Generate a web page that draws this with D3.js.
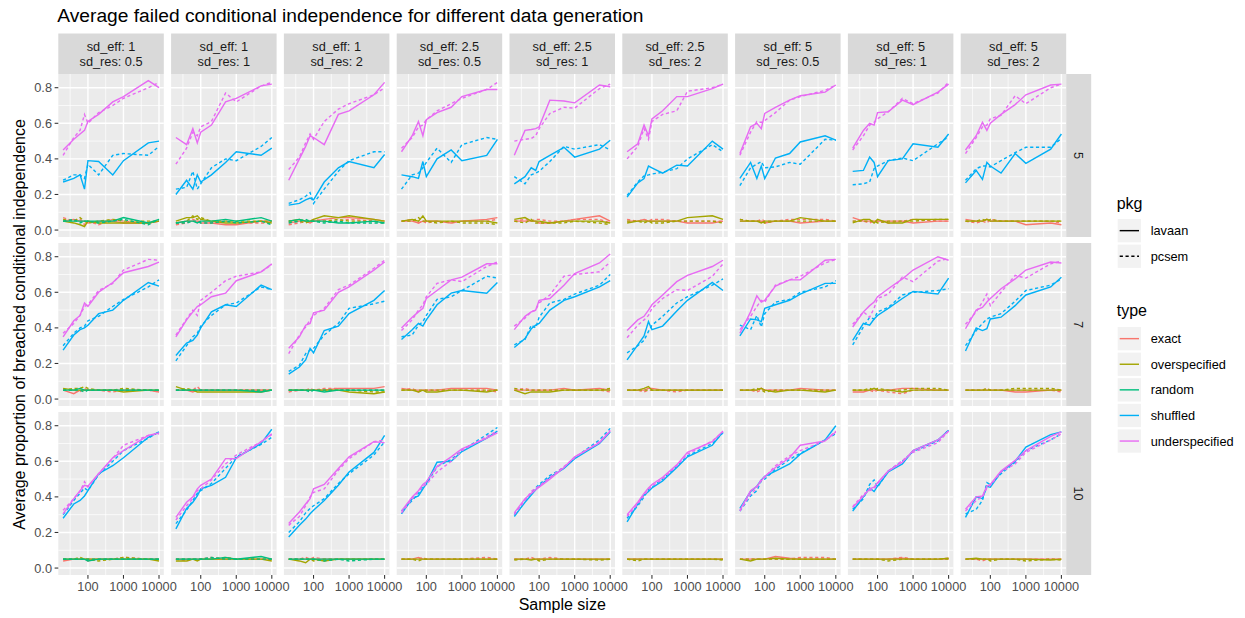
<!DOCTYPE html>
<html><head><meta charset="utf-8">
<script src="https://cdn.jsdelivr.net/npm/d3@7/dist/d3.min.js"></script>
<style>body{margin:0;background:#fff}svg{display:block;font-family:"Liberation Sans",Arial,sans-serif}</style>
</head><body><svg id="chart" width="1245" height="618"></svg>
<script>
// ---------- DATA ----------
const sampleSizes = [20, 40, 60, 80, 100, 200, 500, 1000, 5000, 10000];
const sdEff = [1, 1, 1, 2.5, 2.5, 2.5, 5, 5, 5];
const sdRes = [0.5, 1, 2, 0.5, 1, 2, 0.5, 1, 2];
const rowLabels = ["5", "7", "10"];
const types = ["exact", "overspecified", "random", "shuffled", "underspecified"];
const pkgs = ["lavaan", "pcsem"];
const typeColors = ["#F8766D", "#A3A500", "#00BF7D", "#00B0F6", "#E76BF3"];
const xTicks = [100, 1000, 10000];
const xTickLabels = ["100", "1000", "10000"];
const yTicks = [0, 0.2, 0.4, 0.6, 0.8];
const yTickLabels = ["0.0", "0.2", "0.4", "0.6", "0.8"];
// panels ordered row by row (row "5": 9 columns, row "7", row "10")
const exactLavaan = [
[0.05,0.06,0.05,0.05,0.04,0.05,0.05,0.04,0.04,0.05],[0.04,0.05,0.05,0.05,0.04,0.04,0.03,0.03,0.05,0.05],[0.04,0.05,0.05,0.04,0.05,0.06,0.07,0.07,0.06,0.05],
[0.05,0.05,0.04,0.05,0.05,0.05,0.04,0.05,0.06,0.07],[0.05,0.05,0.05,0.05,0.04,0.04,0.05,0.06,0.08,0.05],[0.05,0.05,0.06,0.05,0.05,0.05,0.05,0.04,0.04,0.05],
[0.05,0.05,0.05,0.05,0.04,0.05,0.05,0.04,0.05,0.05],[0.07,0.05,0.05,0.05,0.05,0.05,0.05,0.04,0.05,0.05],[0.06,0.05,0.05,0.06,0.05,0.05,0.05,0.03,0.04,0.03],
[0.05,0.03,0.05,0.05,0.05,0.05,0.05,0.05,0.05,0.04],[0.05,0.05,0.04,0.05,0.05,0.05,0.05,0.05,0.05,0.05],[0.05,0.05,0.05,0.05,0.05,0.05,0.06,0.06,0.06,0.07],
[0.06,0.05,0.05,0.05,0.05,0.05,0.06,0.06,0.06,0.05],[0.05,0.05,0.05,0.05,0.05,0.05,0.06,0.05,0.06,0.05],[0.05,0.05,0.05,0.06,0.06,0.05,0.05,0.05,0.05,0.05],
[0.05,0.05,0.05,0.06,0.05,0.05,0.05,0.06,0.05,0.05],[0.04,0.04,0.05,0.05,0.05,0.05,0.06,0.06,0.05,0.05],[0.05,0.05,0.05,0.05,0.05,0.05,0.04,0.04,0.05,0.05],
[0.04,0.05,0.05,0.05,0.05,0.05,0.05,0.05,0.05,0.05],[0.05,0.05,0.05,0.05,0.05,0.05,0.05,0.05,0.05,0.05],[0.05,0.05,0.05,0.05,0.05,0.05,0.05,0.05,0.05,0.05],
[0.05,0.05,0.06,0.05,0.05,0.05,0.05,0.05,0.05,0.05],[0.05,0.05,0.05,0.05,0.05,0.05,0.05,0.05,0.05,0.05],[0.05,0.05,0.05,0.05,0.05,0.05,0.05,0.05,0.05,0.05],
[0.05,0.05,0.05,0.05,0.05,0.065,0.055,0.05,0.05,0.05],[0.05,0.05,0.05,0.05,0.05,0.05,0.055,0.05,0.05,0.05],[0.05,0.05,0.05,0.05,0.05,0.05,0.05,0.05,0.05,0.05]];
const exactPcsem = [
[0.07,0.05,0.06,0.03,0.05,0.03,0.06,0.05,0.04,0.05],[0.03,0.04,0.06,0.05,0.05,0.04,0.05,0.04,0.04,0.04],[0.03,0.04,0.05,0.05,0.06,0.05,0.05,0.06,0.05,0.04],
[0.05,0.06,0.04,0.05,0.04,0.05,0.04,0.05,0.05,0.06],[0.05,0.06,0.05,0.06,0.06,0.05,0.05,0.06,0.06,0.04],[0.06,0.05,0.06,0.05,0.06,0.06,0.05,0.05,0.05,0.05],
[0.06,0.05,0.05,0.06,0.05,0.05,0.06,0.06,0.06,0.05],[0.05,0.05,0.04,0.05,0.05,0.04,0.05,0.06,0.05,0.05],[0.05,0.04,0.05,0.04,0.06,0.05,0.05,0.05,0.05,0.04],
[0.05,0.05,0.04,0.06,0.05,0.05,0.04,0.05,0.05,0.04],[0.05,0.05,0.05,0.07,0.05,0.05,0.05,0.05,0.05,0.05],[0.04,0.05,0.05,0.06,0.05,0.06,0.06,0.05,0.05,0.05],
[0.05,0.06,0.04,0.05,0.05,0.05,0.05,0.05,0.05,0.04],[0.05,0.06,0.05,0.05,0.05,0.05,0.05,0.05,0.05,0.04],[0.05,0.05,0.04,0.05,0.05,0.05,0.04,0.05,0.05,0.05],
[0.05,0.05,0.04,0.05,0.05,0.05,0.05,0.05,0.05,0.05],[0.05,0.05,0.05,0.04,0.05,0.04,0.03,0.05,0.05,0.05],[0.05,0.05,0.05,0.06,0.05,0.05,0.05,0.05,0.05,0.04],
[0.05,0.05,0.05,0.05,0.04,0.05,0.05,0.06,0.05,0.05],[0.05,0.04,0.05,0.05,0.05,0.06,0.05,0.05,0.05,0.05],[0.05,0.05,0.06,0.05,0.06,0.05,0.05,0.05,0.05,0.05],
[0.05,0.05,0.05,0.06,0.05,0.05,0.05,0.05,0.06,0.05],[0.05,0.05,0.06,0.05,0.05,0.06,0.05,0.05,0.05,0.05],[0.05,0.05,0.05,0.05,0.05,0.05,0.05,0.05,0.05,0.05],
[0.05,0.05,0.05,0.05,0.05,0.05,0.05,0.06,0.06,0.05],[0.05,0.05,0.05,0.05,0.05,0.05,0.06,0.05,0.05,0.055],[0.05,0.05,0.04,0.05,0.05,0.05,0.05,0.05,0.05,0.05]];
const overspecifiedLavaan = [
[0.05,0.04,0.03,0.02,0.05,0.04,0.04,0.04,0.04,0.05],[0.05,0.07,0.07,0.08,0.06,0.05,0.04,0.04,0.05,0.04],[0.05,0.06,0.05,0.05,0.06,0.08,0.07,0.08,0.06,0.05],
[0.05,0.06,0.05,0.08,0.05,0.05,0.05,0.05,0.05,0.04],[0.06,0.07,0.05,0.05,0.05,0.04,0.05,0.05,0.05,0.04],[0.04,0.05,0.05,0.05,0.05,0.05,0.05,0.07,0.08,0.06],
[0.05,0.05,0.05,0.04,0.05,0.05,0.05,0.07,0.05,0.05],[0.04,0.06,0.06,0.04,0.06,0.04,0.04,0.06,0.06,0.06],[0.05,0.05,0.05,0.06,0.05,0.05,0.05,0.05,0.05,0.05],
[0.06,0.05,0.05,0.05,0.05,0.05,0.05,0.04,0.05,0.05],[0.07,0.05,0.05,0.04,0.04,0.04,0.04,0.04,0.04,0.05],[0.05,0.05,0.05,0.05,0.05,0.05,0.05,0.04,0.03,0.04],
[0.05,0.05,0.04,0.05,0.04,0.04,0.05,0.05,0.04,0.05],[0.05,0.03,0.04,0.04,0.04,0.04,0.05,0.05,0.05,0.05],[0.05,0.05,0.06,0.07,0.05,0.05,0.05,0.05,0.05,0.05],
[0.05,0.05,0.05,0.06,0.05,0.04,0.05,0.05,0.04,0.05],[0.05,0.05,0.05,0.06,0.05,0.05,0.04,0.05,0.05,0.05],[0.05,0.05,0.05,0.05,0.05,0.05,0.05,0.05,0.05,0.05],
[0.05,0.05,0.05,0.05,0.05,0.05,0.05,0.05,0.05,0.04],[0.04,0.04,0.05,0.04,0.05,0.05,0.05,0.05,0.05,0.04],[0.05,0.04,0.03,0.05,0.05,0.04,0.05,0.05,0.05,0.05],
[0.05,0.05,0.05,0.05,0.05,0.05,0.05,0.05,0.05,0.05],[0.05,0.05,0.045,0.05,0.05,0.05,0.05,0.05,0.05,0.05],[0.05,0.05,0.05,0.05,0.05,0.05,0.05,0.05,0.05,0.05],
[0.05,0.04,0.05,0.05,0.05,0.055,0.05,0.05,0.05,0.05],[0.05,0.05,0.05,0.05,0.05,0.05,0.05,0.05,0.05,0.055],[0.05,0.055,0.05,0.05,0.05,0.05,0.05,0.05,0.045,0.05]];
const overspecifiedPcsem = [
[0.06,0.05,0.07,0.05,0.04,0.05,0.06,0.05,0.05,0.05],[0.04,0.05,0.08,0.06,0.07,0.05,0.05,0.05,0.05,0.05],[0.05,0.05,0.04,0.05,0.05,0.05,0.06,0.05,0.05,0.04],
[0.05,0.05,0.07,0.05,0.05,0.04,0.05,0.04,0.04,0.03],[0.05,0.04,0.06,0.04,0.04,0.04,0.04,0.05,0.04,0.03],[0.05,0.05,0.04,0.05,0.04,0.04,0.05,0.05,0.05,0.04],
[0.06,0.05,0.05,0.05,0.04,0.05,0.05,0.05,0.05,0.05],[0.05,0.05,0.05,0.05,0.04,0.05,0.05,0.05,0.06,0.06],[0.05,0.05,0.06,0.05,0.06,0.05,0.05,0.05,0.05,0.05],
[0.05,0.06,0.06,0.07,0.06,0.05,0.05,0.06,0.05,0.05],[0.05,0.06,0.05,0.05,0.05,0.05,0.05,0.05,0.05,0.05],[0.05,0.05,0.05,0.05,0.05,0.05,0.05,0.05,0.04,0.04],
[0.05,0.05,0.05,0.05,0.05,0.05,0.05,0.05,0.05,0.05],[0.06,0.05,0.05,0.05,0.05,0.05,0.05,0.05,0.05,0.06],[0.05,0.05,0.05,0.05,0.05,0.05,0.05,0.05,0.05,0.05],
[0.05,0.05,0.06,0.05,0.04,0.05,0.05,0.05,0.05,0.05],[0.05,0.05,0.06,0.05,0.06,0.05,0.05,0.06,0.06,0.05],[0.05,0.05,0.05,0.06,0.05,0.05,0.06,0.06,0.06,0.05],
[0.05,0.05,0.06,0.05,0.05,0.04,0.05,0.06,0.05,0.05],[0.05,0.05,0.05,0.05,0.05,0.05,0.06,0.05,0.05,0.05],[0.05,0.05,0.05,0.05,0.04,0.05,0.05,0.05,0.05,0.05],
[0.05,0.05,0.04,0.05,0.05,0.05,0.05,0.05,0.05,0.05],[0.045,0.05,0.05,0.05,0.04,0.05,0.05,0.05,0.045,0.05],[0.05,0.04,0.05,0.05,0.05,0.05,0.05,0.05,0.05,0.045],
[0.05,0.05,0.05,0.05,0.05,0.05,0.05,0.05,0.05,0.05],[0.05,0.05,0.05,0.05,0.05,0.04,0.05,0.05,0.05,0.05],[0.05,0.05,0.05,0.05,0.04,0.05,0.05,0.04,0.05,0.045]];
// random only exists for sd_eff = 1 (null elsewhere)
const randomLavaan = [
[0.05,0.05,0.05,0.05,0.05,0.05,0.05,0.07,0.04,0.06],[0.04,0.05,0.05,0.04,0.05,0.05,0.06,0.05,0.07,0.05],[0.05,0.06,0.05,0.05,0.05,0.05,0.04,0.04,0.05,0.04],
null,null,null,null,null,null,
[0.05,0.05,0.06,0.05,0.05,0.05,0.05,0.05,0.05,0.05],[0.05,0.05,0.05,0.05,0.05,0.05,0.05,0.05,0.04,0.05],[0.05,0.05,0.05,0.05,0.05,0.04,0.05,0.05,0.05,0.05],
null,null,null,null,null,null,
[0.05,0.05,0.05,0.05,0.04,0.05,0.05,0.05,0.05,0.05],[0.05,0.05,0.05,0.05,0.05,0.05,0.06,0.05,0.065,0.05],[0.05,0.05,0.05,0.05,0.05,0.05,0.05,0.05,0.05,0.05],
null,null,null,null,null,null];
const randomPcsem = [
[0.05,0.06,0.04,0.05,0.05,0.04,0.05,0.06,0.03,0.06],[0.04,0.04,0.05,0.05,0.04,0.04,0.05,0.04,0.05,0.03],[0.04,0.05,0.06,0.05,0.05,0.04,0.05,0.04,0.04,0.04],
null,null,null,null,null,null,
[0.05,0.05,0.05,0.04,0.05,0.05,0.05,0.05,0.05,0.05],[0.05,0.05,0.05,0.05,0.05,0.05,0.05,0.05,0.05,0.05],[0.05,0.05,0.05,0.04,0.05,0.05,0.05,0.05,0.05,0.05],
null,null,null,null,null,null,
[0.05,0.05,0.05,0.05,0.05,0.05,0.05,0.05,0.05,0.05],[0.05,0.05,0.05,0.05,0.05,0.06,0.05,0.05,0.05,0.05],[0.05,0.05,0.05,0.05,0.05,0.04,0.05,0.04,0.05,0.05],
null,null,null,null,null,null];
const shuffledLavaan = [
[0.27,0.29,0.31,0.23,0.39,0.385,0.31,0.39,0.49,0.50],[0.20,0.28,0.23,0.31,0.27,0.31,0.38,0.44,0.42,0.46],[0.14,0.15,0.17,0.18,0.17,0.27,0.35,0.385,0.35,0.425],
[0.31,0.30,0.29,0.385,0.30,0.40,0.45,0.39,0.42,0.51],[0.26,0.30,0.35,0.335,0.385,0.42,0.465,0.41,0.455,0.505],[0.185,0.265,0.29,0.36,0.35,0.32,0.365,0.36,0.50,0.455],
[0.29,0.38,0.29,0.36,0.29,0.405,0.43,0.495,0.53,0.505],[0.33,0.335,0.41,0.38,0.30,0.39,0.40,0.485,0.465,0.54],[0.265,0.335,0.285,0.38,0.36,0.32,0.43,0.375,0.455,0.54],
[0.275,0.36,0.39,0.40,0.415,0.48,0.50,0.555,0.655,0.635],[0.245,0.315,0.33,0.36,0.40,0.49,0.53,0.52,0.64,0.615],[0.14,0.18,0.22,0.285,0.26,0.385,0.41,0.48,0.555,0.61],
[0.335,0.39,0.425,0.41,0.445,0.53,0.595,0.61,0.595,0.655],[0.29,0.34,0.395,0.415,0.425,0.50,0.555,0.575,0.63,0.665],[0.22,0.305,0.355,0.435,0.39,0.41,0.495,0.555,0.655,0.61],
[0.355,0.45,0.445,0.435,0.51,0.53,0.555,0.59,0.65,0.65],[0.33,0.425,0.415,0.45,0.47,0.51,0.565,0.605,0.59,0.68],[0.27,0.40,0.385,0.395,0.45,0.46,0.525,0.585,0.63,0.685],
[0.28,0.36,0.38,0.405,0.435,0.53,0.575,0.62,0.735,0.765],[0.22,0.335,0.37,0.405,0.445,0.465,0.51,0.62,0.70,0.78],[0.175,0.24,0.275,0.305,0.325,0.38,0.465,0.54,0.65,0.745],
[0.305,0.39,0.405,0.445,0.475,0.595,0.60,0.655,0.73,0.77],[0.29,0.37,0.41,0.44,0.46,0.51,0.56,0.615,0.70,0.765],[0.26,0.36,0.41,0.43,0.45,0.49,0.565,0.625,0.69,0.765],
[0.335,0.43,0.46,0.495,0.515,0.545,0.585,0.64,0.72,0.80],[0.32,0.40,0.45,0.43,0.46,0.54,0.585,0.66,0.72,0.775],[0.285,0.40,0.39,0.46,0.455,0.54,0.60,0.68,0.75,0.765]];
const shuffledPcsem = [
[0.28,0.31,0.31,0.29,0.37,0.31,0.42,0.43,0.42,0.47],[0.23,0.24,0.33,0.23,0.26,0.35,0.40,0.39,0.47,0.52],[0.15,0.17,0.19,0.21,0.15,0.23,0.33,0.39,0.44,0.44],
[0.23,0.31,0.32,0.35,0.38,0.46,0.38,0.48,0.52,0.51],[0.30,0.26,0.31,0.32,0.33,0.385,0.47,0.455,0.48,0.45],[0.195,0.27,0.305,0.31,0.315,0.325,0.345,0.40,0.48,0.44],
[0.25,0.35,0.37,0.385,0.35,0.355,0.38,0.37,0.51,0.505],[0.255,0.26,0.27,0.345,0.36,0.39,0.405,0.39,0.485,0.525],[0.28,0.345,0.36,0.36,0.355,0.39,0.435,0.465,0.465,0.515],
[0.30,0.37,0.40,0.41,0.44,0.465,0.52,0.56,0.63,0.67],[0.215,0.30,0.35,0.37,0.41,0.47,0.53,0.54,0.63,0.615],[0.155,0.19,0.255,0.275,0.285,0.36,0.425,0.51,0.535,0.55],
[0.35,0.36,0.415,0.435,0.47,0.56,0.575,0.61,0.69,0.68],[0.305,0.335,0.415,0.40,0.46,0.54,0.56,0.59,0.64,0.70],[0.26,0.30,0.33,0.38,0.415,0.465,0.54,0.575,0.64,0.675],
[0.415,0.39,0.47,0.405,0.48,0.545,0.56,0.60,0.63,0.665],[0.305,0.405,0.46,0.45,0.49,0.515,0.585,0.60,0.61,0.62],[0.30,0.385,0.425,0.45,0.46,0.48,0.55,0.61,0.64,0.675],
[0.30,0.38,0.42,0.45,0.435,0.525,0.60,0.66,0.73,0.765],[0.25,0.325,0.38,0.42,0.435,0.475,0.56,0.625,0.695,0.735],[0.20,0.26,0.31,0.335,0.35,0.39,0.475,0.53,0.635,0.71],
[0.32,0.38,0.42,0.46,0.47,0.57,0.61,0.66,0.75,0.79],[0.30,0.38,0.42,0.45,0.47,0.52,0.565,0.62,0.72,0.785],[0.28,0.35,0.40,0.44,0.455,0.50,0.57,0.63,0.70,0.76],
[0.32,0.405,0.435,0.49,0.50,0.555,0.61,0.645,0.72,0.755],[0.33,0.39,0.47,0.495,0.455,0.545,0.60,0.655,0.715,0.775],[0.305,0.33,0.38,0.48,0.47,0.53,0.595,0.66,0.72,0.755]];
const underspecifiedLavaan = [
[0.45,0.51,0.54,0.56,0.61,0.65,0.72,0.75,0.84,0.80],[0.52,0.48,0.57,0.49,0.55,0.59,0.72,0.74,0.81,0.82],[0.28,0.40,0.47,0.53,0.52,0.48,0.65,0.67,0.76,0.83],
[0.44,0.53,0.61,0.53,0.62,0.66,0.69,0.75,0.79,0.79],[0.42,0.56,0.565,0.57,0.58,0.73,0.725,0.715,0.815,0.805],[0.44,0.485,0.59,0.53,0.625,0.67,0.75,0.75,0.795,0.82],
[0.43,0.58,0.60,0.57,0.655,0.69,0.73,0.755,0.775,0.815],[0.46,0.56,0.60,0.59,0.66,0.665,0.73,0.705,0.775,0.82],[0.45,0.53,0.605,0.56,0.60,0.65,0.705,0.76,0.815,0.82],
[0.35,0.44,0.47,0.54,0.52,0.60,0.655,0.71,0.745,0.77],[0.35,0.445,0.49,0.52,0.53,0.575,0.595,0.665,0.715,0.76],[0.285,0.35,0.415,0.425,0.485,0.50,0.60,0.63,0.725,0.77],
[0.40,0.46,0.49,0.51,0.565,0.61,0.67,0.685,0.76,0.76],[0.39,0.465,0.49,0.50,0.555,0.565,0.64,0.705,0.765,0.815],[0.385,0.445,0.465,0.50,0.53,0.585,0.66,0.695,0.745,0.78],
[0.37,0.49,0.58,0.545,0.555,0.635,0.67,0.67,0.78,0.785],[0.405,0.49,0.525,0.545,0.575,0.62,0.675,0.725,0.80,0.78],[0.395,0.50,0.515,0.545,0.565,0.62,0.675,0.725,0.77,0.765],
[0.305,0.39,0.435,0.465,0.46,0.53,0.62,0.66,0.745,0.76],[0.285,0.37,0.40,0.445,0.465,0.50,0.615,0.615,0.71,0.755],[0.25,0.315,0.36,0.39,0.445,0.47,0.56,0.625,0.71,0.705],
[0.32,0.40,0.435,0.47,0.485,0.57,0.625,0.67,0.73,0.76],[0.31,0.39,0.42,0.44,0.455,0.50,0.565,0.625,0.705,0.77],[0.30,0.37,0.42,0.45,0.47,0.51,0.58,0.65,0.71,0.77],
[0.325,0.435,0.46,0.49,0.515,0.565,0.62,0.69,0.715,0.765],[0.34,0.405,0.445,0.455,0.48,0.545,0.595,0.66,0.72,0.77],[0.33,0.40,0.405,0.46,0.47,0.545,0.605,0.66,0.74,0.765]];
const underspecifiedPcsem = [
[0.42,0.52,0.56,0.65,0.60,0.66,0.70,0.74,0.80,0.83],[0.37,0.46,0.55,0.53,0.58,0.61,0.77,0.72,0.81,0.83],[0.34,0.41,0.49,0.54,0.51,0.61,0.68,0.71,0.76,0.80],
[0.46,0.52,0.58,0.59,0.62,0.67,0.71,0.74,0.79,0.83],[0.50,0.51,0.515,0.53,0.57,0.655,0.69,0.685,0.795,0.82],[0.40,0.47,0.57,0.51,0.61,0.65,0.67,0.78,0.80,0.82],
[0.42,0.55,0.61,0.605,0.615,0.66,0.73,0.75,0.785,0.815],[0.45,0.53,0.59,0.605,0.625,0.665,0.74,0.71,0.77,0.83],[0.43,0.52,0.58,0.59,0.625,0.645,0.755,0.71,0.80,0.82],
[0.37,0.425,0.47,0.52,0.53,0.61,0.65,0.725,0.785,0.78],[0.36,0.45,0.50,0.47,0.555,0.60,0.665,0.69,0.715,0.755],[0.255,0.36,0.405,0.445,0.47,0.51,0.615,0.64,0.735,0.78],
[0.385,0.445,0.50,0.53,0.575,0.65,0.67,0.66,0.745,0.77],[0.41,0.455,0.49,0.50,0.54,0.585,0.69,0.70,0.715,0.77],[0.345,0.415,0.445,0.47,0.51,0.565,0.615,0.61,0.69,0.76],
[0.39,0.465,0.52,0.555,0.545,0.64,0.67,0.69,0.765,0.785],[0.42,0.49,0.46,0.51,0.565,0.59,0.685,0.66,0.775,0.79],[0.42,0.49,0.545,0.59,0.525,0.60,0.695,0.68,0.76,0.775],
[0.325,0.39,0.43,0.485,0.455,0.53,0.615,0.69,0.745,0.755],[0.27,0.35,0.39,0.435,0.445,0.495,0.585,0.635,0.71,0.75],[0.24,0.29,0.35,0.40,0.425,0.445,0.55,0.615,0.71,0.72],
[0.31,0.39,0.43,0.46,0.47,0.54,0.60,0.66,0.74,0.77],[0.30,0.38,0.43,0.45,0.46,0.51,0.57,0.62,0.71,0.775],[0.29,0.36,0.41,0.44,0.46,0.50,0.575,0.64,0.715,0.765],
[0.32,0.415,0.45,0.50,0.51,0.575,0.63,0.66,0.715,0.77],[0.345,0.415,0.435,0.445,0.475,0.545,0.605,0.65,0.705,0.77],[0.32,0.38,0.40,0.45,0.465,0.54,0.585,0.65,0.72,0.755]];

// ---------- LAYOUT ----------
const seriesByType = [
  [exactLavaan, exactPcsem],
  [overspecifiedLavaan, overspecifiedPcsem],
  [randomLavaan, randomPcsem],
  [shuffledLavaan, shuffledPcsem],
  [underspecifiedLavaan, underspecifiedPcsem]
];
const svg = d3.select("#chart");
const panelL0 = 58.3, panelW = 105.5, colStep = 112.8;
const panelT0 = 74, panelH = 163, rowStep = 169;
const nCol = 9, nRow = 3;
const lo = Math.log10(20), hi = Math.log10(10000), ex = (hi - lo) * 0.05;
const x = d3.scaleLog().domain([Math.pow(10, lo - ex), Math.pow(10, hi + ex)]).range([0, panelW]);
const y = d3.scaleLinear().domain([-0.039, 0.877]).range([panelH, 0]);
const xMinor = [Math.pow(10, 1.5), Math.pow(10, 2.5), Math.pow(10, 3.5)];
const yMinor = [0.1, 0.3, 0.5, 0.7];
const line = d3.line().x((d, i) => x(sampleSizes[i])).y(d => y(d));
const axisCol = "#4D4D4D", tickCol = "#333333";
const fsTitle = 19.2, fsAxisTitle = 16, fsText = 12.75;

svg.append("text").attr("x", panelL0 - 1).attr("y", 22).attr("font-size", fsTitle).attr("fill", "#000")
  .text("Average failed conditional independence for different data generation");

for (let r = 0; r < nRow; r++) {
  for (let c = 0; c < nCol; c++) {
    const px = panelL0 + c * colStep, py = panelT0 + r * rowStep;
    const g = svg.append("g").attr("transform", `translate(${px},${py})`);
    g.append("rect").attr("width", panelW).attr("height", panelH).attr("fill", "#EBEBEB");
    yMinor.forEach(v => g.append("line").attr("x1", 0).attr("x2", panelW).attr("y1", y(v)).attr("y2", y(v)).attr("stroke", "#fff").attr("stroke-width", 0.71));
    xMinor.forEach(v => g.append("line").attr("y1", 0).attr("y2", panelH).attr("x1", x(v)).attr("x2", x(v)).attr("stroke", "#fff").attr("stroke-width", 0.71));
    yTicks.forEach(v => g.append("line").attr("x1", 0).attr("x2", panelW).attr("y1", y(v)).attr("y2", y(v)).attr("stroke", "#fff").attr("stroke-width", 1.42));
    xTicks.forEach(v => g.append("line").attr("y1", 0).attr("y2", panelH).attr("x1", x(v)).attr("x2", x(v)).attr("stroke", "#fff").attr("stroke-width", 1.42));
    const idx = r * nCol + c;
    seriesByType.forEach((pair, ti) => {
      pair.forEach((arr, pi) => {
        const vals = arr[idx];
        if (!vals) return;
        g.append("path").attr("d", line(vals)).attr("fill", "none")
          .attr("stroke", typeColors[ti]).attr("stroke-width", 1.42)
          .attr("stroke-dasharray", pi === 1 ? "3.2,2.6" : null);
      });
    });
    if (c === 0) {
      yTicks.forEach((v, i) => {
        g.append("line").attr("x1", -3.67).attr("x2", 0).attr("y1", y(v)).attr("y2", y(v)).attr("stroke", tickCol).attr("stroke-width", 1.07);
        g.append("text").attr("x", -6.3).attr("y", y(v)).attr("dy", "0.36em").attr("text-anchor", "end")
          .attr("font-size", fsText).attr("fill", axisCol).text(yTickLabels[i]);
      });
    }
    if (r === nRow - 1) {
      xTicks.forEach((v, i) => {
        g.append("line").attr("y1", panelH).attr("y2", panelH + 3.67).attr("x1", x(v)).attr("x2", x(v)).attr("stroke", tickCol).attr("stroke-width", 1.07);
        g.append("text").attr("x", x(v)).attr("y", panelH + 16).attr("text-anchor", "middle")
          .attr("font-size", fsText).attr("fill", axisCol).text(xTickLabels[i]);
      });
    }
    if (r === 0) {
      const sg = svg.append("g").attr("transform", `translate(${px},${33.5})`);
      sg.append("rect").attr("width", panelW).attr("height", panelT0 - 33.5).attr("fill", "#D9D9D9");
      sg.append("text").attr("x", panelW / 2).attr("y", 17.6).attr("text-anchor", "middle").attr("font-size", fsText).attr("fill", "#1A1A1A").text(`sd_eff: ${sdEff[c]}`);
      sg.append("text").attr("x", panelW / 2).attr("y", 32).attr("text-anchor", "middle").attr("font-size", fsText).attr("fill", "#1A1A1A").text(`sd_res: ${sdRes[c]}`);
    }
    if (c === nCol - 1) {
      const sx = px + panelW;
      const sg = svg.append("g").attr("transform", `translate(${sx},${py})`);
      sg.append("rect").attr("width", 25).attr("height", panelH).attr("fill", "#D9D9D9");
      sg.append("text").attr("transform", `translate(${12.5},${panelH / 2}) rotate(90)`).attr("text-anchor", "middle").attr("dy", "0.36em")
        .attr("font-size", fsText).attr("fill", "#1A1A1A").text(rowLabels[r]);
    }
  }
}

const plotMidX = panelL0 + ((nCol - 1) * colStep + panelW) / 2;
const plotMidY = panelT0 + ((nRow - 1) * rowStep + panelH) / 2;
svg.append("text").attr("x", plotMidX).attr("y", 610).attr("text-anchor", "middle").attr("font-size", fsAxisTitle).attr("fill", "#000").text("Sample size");
svg.append("text").attr("transform", `translate(25,${plotMidY}) rotate(-90)`).attr("text-anchor", "middle").attr("font-size", fsAxisTitle).attr("fill", "#000")
  .text("Average proportion of breached conditional independence");

const lx = 1117.7, keyW = 23.3, keyStep = 25.6;
svg.append("text").attr("x", lx - 1).attr("y", 208.5).attr("font-size", fsAxisTitle).attr("fill", "#000").text("pkg");
pkgs.forEach((p, i) => {
  const ky = 219 + i * keyStep;
  svg.append("rect").attr("x", lx).attr("y", ky).attr("width", keyW).attr("height", keyW).attr("fill", "#F2F2F2");
  svg.append("line").attr("x1", lx + 2).attr("x2", lx + keyW - 2).attr("y1", ky + keyW / 2).attr("y2", ky + keyW / 2)
    .attr("stroke", "#000").attr("stroke-width", 1.42).attr("stroke-dasharray", i === 1 ? "3.2,2.6" : null);
  svg.append("text").attr("x", 1150.7).attr("y", ky + keyW / 2).attr("dy", "0.36em").attr("font-size", fsText).attr("fill", "#000").text(p);
});
svg.append("text").attr("x", lx - 1).attr("y", 316).attr("font-size", fsAxisTitle).attr("fill", "#000").text("type");
types.forEach((t, i) => {
  const ky = 327 + i * keyStep;
  svg.append("rect").attr("x", lx).attr("y", ky).attr("width", keyW).attr("height", keyW).attr("fill", "#F2F2F2");
  svg.append("line").attr("x1", lx + 2).attr("x2", lx + keyW - 2).attr("y1", ky + keyW / 2).attr("y2", ky + keyW / 2)
    .attr("stroke", typeColors[i]).attr("stroke-width", 1.42);
  svg.append("text").attr("x", 1150.7).attr("y", ky + keyW / 2).attr("dy", "0.36em").attr("font-size", fsText).attr("fill", "#000").text(t);
});
</script>
</body></html>
